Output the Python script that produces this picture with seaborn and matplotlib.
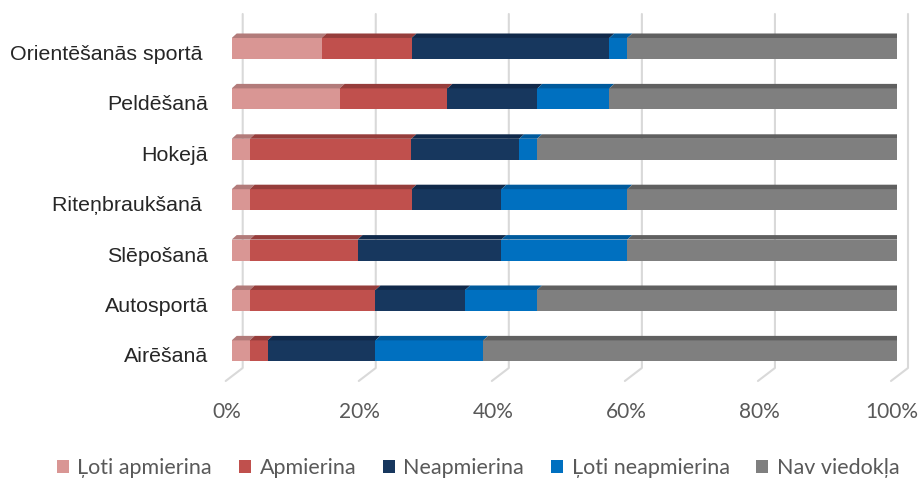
import matplotlib
matplotlib.use("Agg")
import matplotlib.pyplot as plt
from matplotlib.patches import Polygon, Patch
from matplotlib.transforms import ScaledTranslation
import numpy as np
import pandas as pd
import seaborn as sns

# data (percent of answers)
sports = ["Orientēšanās sportā ", "Peldēšanā", "Hokejā", "Riteņbraukšanā ",
          "Slēpošanā", "Autosportā", "Airēšanā"]
series = ["Ļoti apmierina", "Apmierina", "Neapmierina", "Ļoti neapmierina", "Nav viedokļa"]
loti_apmierina = [13.5, 16.2, 2.7, 2.7, 2.7, 2.7, 2.7]
apmierina = [13.5, 16.2, 24.3, 24.3, 16.2, 18.9, 2.7]
neapmierina = [29.7, 13.5, 16.2, 13.5, 21.6, 13.5, 16.2]
loti_neapmierina = [2.7, 10.8, 2.7, 18.9, 18.9, 10.8, 16.2]
nav_viedokla = [40.5, 43.2, 54.1, 40.5, 40.5, 54.1, 62.2]
x_ticks = [0, 20, 40, 60, 80, 100]

colors = ["#D99694", "#C0504D", "#17375E", "#0070C0", "#7F7F7F"]
top_colors = ["#B27B7A", "#963D3B", "#10294A", "#005A9C", "#606060"]
side_color = "#4D4D4D"

vals = np.array([loti_apmierina, apmierina, neapmierina, loti_neapmierina, nav_viedokla]).T
vals = vals / vals.sum(axis=1, keepdims=True) * 100  # 100% stacked
cum = vals.cumsum(axis=1)

rows = []
for i, s in enumerate(sports):
    for k, name in enumerate(series):
        rows.append({"sport": s, "series": name, "left": cum[i, k] - vals[i, k], "cum": cum[i, k]})
df = pd.DataFrame(rows)

sns.set_style("white")
plt.rcParams["font.family"] = ["Lato", "DejaVu Sans"]

fig = plt.figure(figsize=(9.22, 4.79), dpi=100)
ax = fig.add_axes([231.7 / 922, 1 - 383 / 479, 665.3 / 922, (383 - 14) / 479])

bar_h = 0.417
# stacked bars: draw cumulative totals, longest first
for k in reversed(range(len(series))):
    sub = df[df["series"] == series[k]]
    sns.barplot(data=sub, x="cum", y="sport", order=sports, color=colors[k],
                saturation=1, width=bar_h, linewidth=0, errorbar=None,
                orient="h", ax=ax, zorder=3)

ax.set_xlim(0, 100)
ax.set_ylim(6.637, -0.6845)

# fake 3d depth
dx = 5 * 100 / 665.3
dy = 4.5 / 50.4
for _, r in df.iterrows():
    i = sports.index(r["sport"])
    k = series.index(r["series"])
    yt = i - bar_h / 2
    x0, x1 = r["left"], r["cum"]
    ax.add_patch(Polygon([(x0, yt), (x1, yt), (x1 + dx, yt - dy), (x0 + dx, yt - dy)],
                         closed=True, facecolor=top_colors[k], edgecolor="none", zorder=3))
    if k == len(series) - 1:
        yb = i + bar_h / 2
        ax.add_patch(Polygon([(x1, yt), (x1 + dx, yt - dy), (x1 + dx, yb - dy), (x1, yb)],
                             closed=True, facecolor=side_color, edgecolor="none", zorder=3))

# gridlines on the back wall and floor
g_off = 11 * 100 / 665.3
for t in x_ticks:
    xb = t + g_off
    ax.plot([xb, xb, xb - 17 * 100 / 665.3], [-0.6845, 6.339, 6.597],
            color="#D9D9D9", lw=1.5, zorder=1, clip_on=False)

for sp in ax.spines.values():
    sp.set_visible(False)
ax.set_xlabel("")
ax.set_ylabel("")
ax.set_xticks(x_ticks)
ax.set_xticklabels([f"{t}%" for t in x_ticks], fontsize=15, color="#595959")
ax.tick_params(axis="x", length=0, pad=14)
ax.tick_params(axis="y", length=0, pad=17)
for lab in ax.get_xticklabels():
    lab.set_transform(lab.get_transform() + ScaledTranslation(-5 / 100, 0, fig.dpi_scale_trans))
for lab in ax.get_yticklabels():
    lab.set_fontfamily(["Liberation Sans", "DejaVu Sans"])
    lab.set_fontsize(15.4)
    lab.set_color("#262626")
    lab.set_transform(lab.get_transform() + ScaledTranslation(0, -4 / 100, fig.dpi_scale_trans))

handles = [Patch(facecolor=c, edgecolor="none") for c in colors]
fig.legend(handles, series, loc="center left", bbox_to_anchor=(57 / 922, 1 - 468 / 479),
           ncol=5, frameon=False, fontsize=15.5, labelcolor="#595959",
           handlelength=0.55, handleheight=0.55, handletextpad=0.4,
           columnspacing=1.25, borderpad=0, borderaxespad=0)

fig.savefig("out.png", dpi=100)
